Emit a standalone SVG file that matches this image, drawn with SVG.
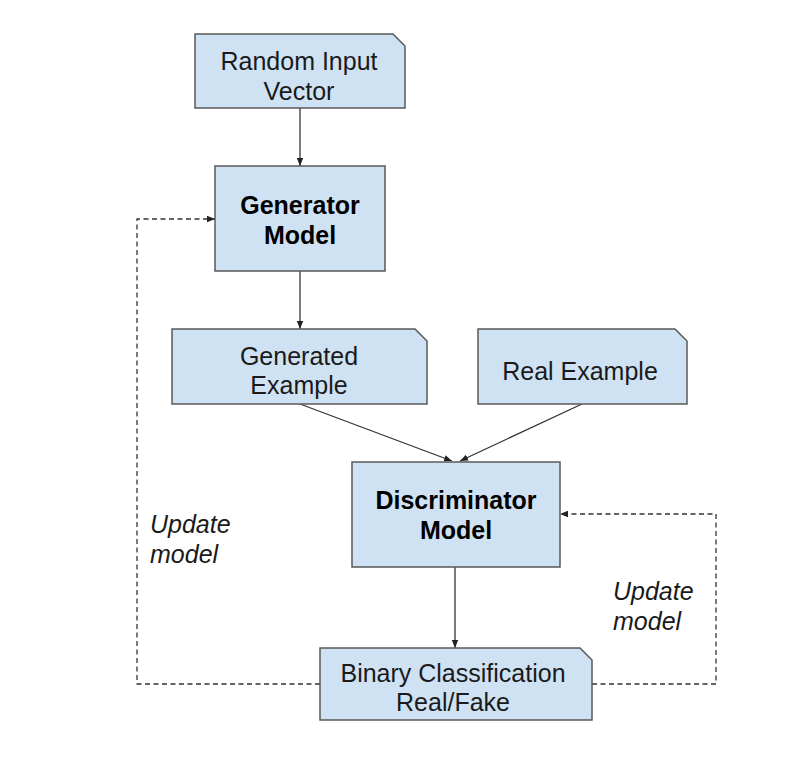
<svg xmlns="http://www.w3.org/2000/svg" width="799" height="763" viewBox="0 0 799 763">
<style>
.box{fill:#cfe2f3;stroke:#595959;stroke-width:1.5}
.t{font-family:"Liberation Sans",Arial,sans-serif;font-size:25px;fill:#1a1a1a;text-anchor:middle}
.b{font-weight:bold;fill:#000}
.i{font-style:italic;text-anchor:start}
.ln{fill:none;stroke:#333;stroke-width:1.3}
.dash{stroke-dasharray:5 3.5}
</style>
<defs>
<marker id="ah" viewBox="0 0 10 10" refX="10" refY="5" markerWidth="8" markerHeight="8" markerUnits="userSpaceOnUse" orient="auto">
<path d="M0,1 L10,5 L0,9 Z" fill="#222"/>
</marker>
</defs>
<rect width="799" height="763" fill="#fff"/>
<g id="connectors">
<path class="ln" d="M300,108 V166" marker-end="url(#ah)"/>
<path class="ln" d="M300,271 V329" marker-end="url(#ah)"/>
<path class="ln" d="M300,404 L452,461" marker-end="url(#ah)"/>
<path class="ln" d="M582,404 L460,461" marker-end="url(#ah)"/>
<path class="ln" d="M455,567 V648" marker-end="url(#ah)"/>
<path class="ln dash" d="M320,684 H137 V219 H215" marker-end="url(#ah)"/>
<path class="ln dash" d="M592,684 H716 V514 H560" marker-end="url(#ah)"/>
</g>
<g id="random-input">
<path class="box" d="M195,34 H393 L405,46 V108 H195 Z"/>
<text class="t" x="299" y="70">Random Input</text>
<text class="t" x="299" y="100">Vector</text>
</g>
<g id="generator">
<rect class="box" x="215" y="166" width="170" height="105"/>
<text class="t b" x="300" y="214">Generator</text>
<text class="t b" x="300" y="244">Model</text>
</g>
<g id="generated-example">
<path class="box" d="M172,329 H415 L427,341 V404 H172 Z"/>
<text class="t" x="299" y="365">Generated</text>
<text class="t" x="299" y="394">Example</text>
</g>
<g id="real-example">
<path class="box" d="M478,329 H675 L687,341 V404 H478 Z"/>
<text class="t" x="580" y="380">Real Example</text>
</g>
<g id="discriminator">
<rect class="box" x="352" y="462" width="208" height="105"/>
<text class="t b" x="456" y="509">Discriminator</text>
<text class="t b" x="456" y="539">Model</text>
</g>
<g id="binary">
<path class="box" d="M320,648 H580 L592,660 V720 H320 Z"/>
<text class="t" x="453" y="682">Binary Classification</text>
<text class="t" x="453" y="711">Real/Fake</text>
</g>
<g id="labels">
<text class="t i" x="150" y="533">Update</text>
<text class="t i" x="150" y="563">model</text>
<text class="t i" x="613" y="600">Update</text>
<text class="t i" x="613" y="630">model</text>
</g>
</svg>
